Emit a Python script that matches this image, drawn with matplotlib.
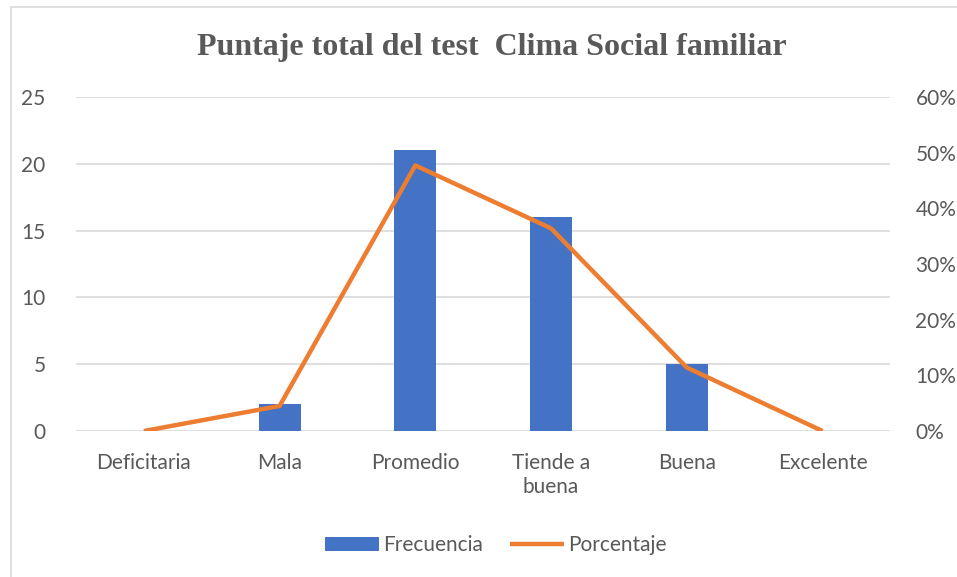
import matplotlib.pyplot as plt
import numpy as np
from matplotlib.ticker import PercentFormatter
from matplotlib.patches import Rectangle

# data
categorias = ['Deficitaria', 'Mala', 'Promedio', 'Tiende a\nbuena', 'Buena', 'Excelente']
frecuencia = [0, 2, 21, 16, 5, 0]
porcentaje = [0.0, 0.045, 0.477, 0.364, 0.114, 0.0]

gris = '#595959'
azul = '#4472C4'
naranja = '#ED7D31'

plt.rcParams['font.family'] = ['Lato', 'DejaVu Sans']
fs = 15

fig = plt.figure(figsize=(9.57, 5.77), dpi=100)
ax = fig.add_axes([0.0794, 0.253, 0.851, 0.579])

x = np.arange(len(categorias))
ax.bar(x, frecuencia, width=0.31, color=azul, label='Frecuencia', zorder=2)
ax.set_xlim(-0.5, len(categorias) - 0.5)
ax.set_ylim(0, 25)
ax.set_yticks(range(0, 26, 5))
ax.grid(axis='y', color='#d9d9d9', linewidth=1.2, zorder=0)
ax.set_axisbelow(True)
ax.set_xticks(x)
ax.set_xticklabels(categorias, fontsize=fs, color=gris, linespacing=1.25)
ax.tick_params(axis='both', length=0, colors=gris, labelsize=fs)
ax.tick_params(axis='x', pad=16)
ax.tick_params(axis='y', pad=22)
for s in ax.spines.values():
    s.set_visible(False)

ax2 = ax.twinx()
ax2.plot(x, porcentaje, color=naranja, linewidth=3.2, label='Porcentaje',
         solid_capstyle='butt', zorder=3)
ax2.set_ylim(0, 0.6)
ax2.set_yticks(np.arange(0, 0.61, 0.1))
ax2.yaxis.set_major_formatter(PercentFormatter(1.0, decimals=0))
ax2.tick_params(axis='y', length=0, colors=gris, labelsize=fs, pad=18)
for s in ax2.spines.values():
    s.set_visible(False)

fig.suptitle('Puntaje total del test  Clima Social familiar', x=0.514, y=0.918,
             va='center', fontsize=23, fontweight='bold', color=gris,
             family='Liberation Serif')

h1, l1 = ax.get_legend_handles_labels()
h2, l2 = ax2.get_legend_handles_labels()
fig.legend(h1 + h2, l1 + l2, loc='center', bbox_to_anchor=(0.518, 0.055), ncol=2,
           frameon=False, fontsize=fs, labelcolor=gris, handlelength=2.6,
           handletextpad=0.2, columnspacing=1.3)

# light border around the chart area
fig.patches.append(Rectangle((0.012, -0.02), 1.2, 1.008, transform=fig.transFigure,
                             fill=False, edgecolor='#d9d9d9', linewidth=1.2))

fig.savefig('out.png', dpi=100)
